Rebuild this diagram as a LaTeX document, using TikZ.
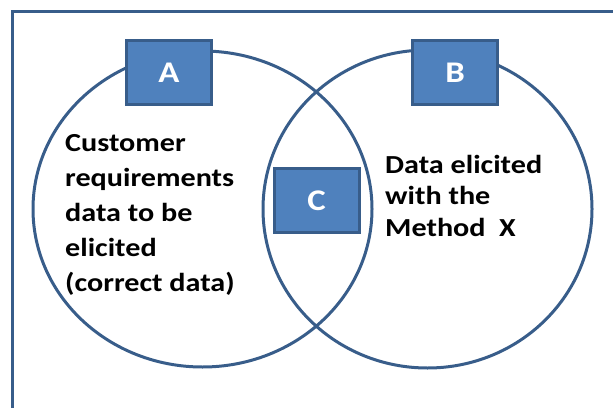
\documentclass[tikz,border=0pt]{standalone}
\usepackage{fontspec}
\setmainfont{Carlito}
\newfontfamily\widefont[FakeStretch=1.16]{Carlito}
\definecolor{lineblue}{HTML}{385D8A}
\definecolor{fillblue}{HTML}{4F81BD}
\begin{document}
\begin{tikzpicture}[x=1pt,y=-1pt,
  circ/.style={draw=lineblue,line width=3pt},
  box/.style={draw=lineblue,fill=fillblue,line width=3pt,minimum width=85pt,minimum height=64pt,inner sep=0pt,text=white,font=\widefont\fontsize{30}{30}\selectfont\bfseries},
  txt/.style={inner sep=0pt,align=left,anchor=north west,text=black}]
\useasboundingbox (0,0) rectangle (613,407);
\begin{scope}
\clip (0,0) rectangle (613,407);
\draw[circ] (12.5,11.5) rectangle (640,440);
\end{scope}
\draw[circ] (202.5,209) ellipse [x radius=169.5, y radius=158];
\draw[circ] (427.5,209) ellipse [x radius=164.5, y radius=159];
\node[box] (A) at (169,72.5) {A};
\node[box] (B) at (455,72.5) {B};
\node[box] (C) at (316.5,200.5) {C};
\node[txt,font=\widefont\fontsize{26}{35}\selectfont\bfseries] (L) at (65,134) {Customer\\requirements\\data to be\\elicited\\(correct data)};
\node[txt,font=\widefont\fontsize{26}{31.3}\selectfont\bfseries] (R) at (385,155) {Data elicited\\with the\\Method~~X};
\end{tikzpicture}
\end{document}
